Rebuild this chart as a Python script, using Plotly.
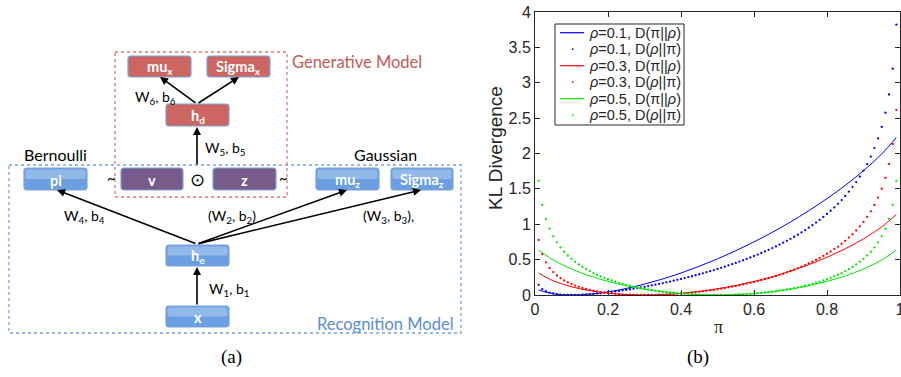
import plotly.graph_objects as go

# ---------------- data ----------------
pi_dots = [0.01,0.02,0.03,0.04,0.05,0.06,0.07,0.08,0.09,0.10,
           0.11,0.12,0.13,0.14,0.15,0.16,0.17,0.18,0.19,0.20,
           0.21,0.22,0.23,0.24,0.25,0.26,0.27,0.28,0.29,0.30,
           0.31,0.32,0.33,0.34,0.35,0.36,0.37,0.38,0.39,0.40,
           0.41,0.42,0.43,0.44,0.45,0.46,0.47,0.48,0.49,0.50,
           0.51,0.52,0.53,0.54,0.55,0.56,0.57,0.58,0.59,0.60,
           0.61,0.62,0.63,0.64,0.65,0.66,0.67,0.68,0.69,0.70,
           0.71,0.72,0.73,0.74,0.75,0.76,0.77,0.78,0.79,0.80,
           0.81,0.82,0.83,0.84,0.85,0.86,0.87,0.88,0.89,0.90,
           0.91,0.92,0.93,0.94,0.95,0.96,0.97,0.98,0.99]

pi_line = [0.01,0.05,0.10,0.15,0.20,0.25,0.30,0.35,0.40,0.45,0.50,
           0.55,0.60,0.65,0.70,0.75,0.80,0.85,0.90,0.95,0.99]

# D(pi||rho), solid lines
kl_fwd_rho01 = [0.071,0.017,0.000,0.012,0.044,0.092,0.154,0.227,0.311,0.406,0.511,
                0.626,0.751,0.886,1.033,1.191,1.363,1.550,1.758,1.994,2.225]
kl_fwd_rho03 = [0.309,0.201,0.116,0.061,0.026,0.006,0.000,0.006,0.023,0.050,0.087,
                0.135,0.192,0.260,0.339,0.430,0.534,0.654,0.794,0.963,1.139]
kl_fwd_rho05 = [0.637,0.495,0.368,0.270,0.193,0.131,0.082,0.046,0.020,0.005,0.000,
                0.005,0.020,0.046,0.082,0.131,0.193,0.270,0.368,0.495,0.637]

# D(rho||pi), dotted
kl_rev_rho01 = [0.144,0.084,0.053,0.034,0.021,0.012,0.006,0.003,0.001,0.000,
                0.001,0.002,0.004,0.007,0.011,0.015,0.020,0.025,0.031,0.037,
                0.043,0.050,0.057,0.065,0.072,0.081,0.089,0.098,0.107,0.116,
                0.126,0.136,0.146,0.157,0.168,0.179,0.190,0.202,0.214,0.226,
                0.239,0.252,0.265,0.279,0.293,0.307,0.322,0.337,0.352,0.368,
                0.384,0.401,0.418,0.435,0.453,0.472,0.491,0.510,0.530,0.551,
                0.572,0.594,0.616,0.639,0.663,0.687,0.713,0.739,0.766,0.794,
                0.823,0.853,0.885,0.917,0.951,0.987,1.024,1.062,1.103,1.146,
                1.191,1.238,1.288,1.342,1.399,1.460,1.525,1.596,1.673,1.758,
                1.851,1.956,2.076,2.213,2.376,2.576,2.834,3.198,3.821]
kl_rev_rho03 = [0.778,0.577,0.462,0.383,0.324,0.276,0.238,0.205,0.178,0.154,
                0.133,0.115,0.099,0.085,0.072,0.061,0.051,0.042,0.035,0.028,
                0.022,0.017,0.013,0.009,0.006,0.004,0.002,0.001,0.000,0.000,
                0.000,0.001,0.002,0.004,0.006,0.008,0.011,0.014,0.018,0.022,
                0.026,0.031,0.036,0.041,0.047,0.053,0.060,0.067,0.074,0.082,
                0.090,0.099,0.108,0.118,0.127,0.138,0.149,0.160,0.172,0.184,
                0.197,0.210,0.224,0.238,0.253,0.269,0.285,0.302,0.320,0.339,
                0.358,0.379,0.400,0.422,0.446,0.470,0.496,0.524,0.552,0.583,
                0.615,0.649,0.685,0.724,0.766,0.811,0.859,0.912,0.969,1.033,
                1.103,1.182,1.272,1.377,1.502,1.655,1.853,2.134,2.616]
kl_rev_rho05 = [1.614,1.273,1.075,0.937,0.830,0.744,0.673,0.611,0.558,0.511,
                0.469,0.431,0.397,0.365,0.337,0.310,0.286,0.263,0.243,0.223,
                0.205,0.188,0.172,0.158,0.144,0.131,0.119,0.108,0.097,0.087,
                0.078,0.069,0.061,0.054,0.047,0.041,0.035,0.030,0.025,0.020,
                0.016,0.013,0.010,0.007,0.005,0.003,0.002,0.001,0.000,0.000,
                0.000,0.001,0.002,0.003,0.005,0.007,0.010,0.013,0.016,0.020,
                0.025,0.030,0.035,0.041,0.047,0.054,0.061,0.069,0.078,0.087,
                0.097,0.108,0.119,0.131,0.144,0.158,0.172,0.188,0.205,0.223,
                0.243,0.263,0.286,0.310,0.337,0.365,0.397,0.431,0.469,0.511,
                0.558,0.611,0.673,0.744,0.830,0.937,1.075,1.273,1.614]

series_names = [
    "<i>ρ</i>=0.1, D(π||<i>ρ</i>)",
    "<i>ρ</i>=0.1, D(<i>ρ</i>||π)",
    "<i>ρ</i>=0.3, D(π||<i>ρ</i>)",
    "<i>ρ</i>=0.3, D(<i>ρ</i>||π)",
    "<i>ρ</i>=0.5, D(π||<i>ρ</i>)",
    "<i>ρ</i>=0.5, D(<i>ρ</i>||π)",
]
x_tickvals = [0, 0.2, 0.4, 0.6, 0.8, 1]
x_ticktext = ["0", "0.2", "0.4", "0.6", "0.8", "1"]
y_tickvals = [0, 0.5, 1, 1.5, 2, 2.5, 3, 3.5, 4]
y_ticktext = ["0", "0.5", "1", "1.5", "2", "2.5", "3", "3.5", "4"]

# ---------------- figure ----------------
W, H = 901, 377
AX = "#262626"
fig = go.Figure()

colors = ["#0000ff", "#ff0000", "#00e600"]
fwd = [kl_fwd_rho01, kl_fwd_rho03, kl_fwd_rho05]
rev = [kl_rev_rho01, kl_rev_rho03, kl_rev_rho05]
for i in range(3):
    fig.add_trace(go.Scatter(x=pi_line, y=fwd[i], mode="lines", name=series_names[2 * i],
                             line=dict(color=colors[i], width=1, shape="spline"),
                             showlegend=False, xaxis="x", yaxis="y"))
    fig.add_trace(go.Scatter(x=pi_dots, y=rev[i], mode="markers", name=series_names[2 * i + 1],
                             marker=dict(color=colors[i], size=2.3, line=dict(width=0)),
                             showlegend=False, cliponaxis=False, xaxis="x", yaxis="y"))

# empty trace so the full-figure overlay axes exist (used for diagram panel)
fig.add_trace(go.Scatter(x=[], y=[], xaxis="x2", yaxis="y2", showlegend=False, hoverinfo="skip"))

shapes = []
annots = []

# ---------------- legend box of (b) ----------------
leg_x0, leg_y0, leg_x1, leg_y1 = 555, 24, 684, 125
shapes.append(dict(type="rect", xref="x2", yref="y2", x0=leg_x0, y0=leg_y0, x1=leg_x1, y1=leg_y1,
                   line=dict(color=AX, width=1), fillcolor="white", layer="above"))
for i, name in enumerate(series_names):
    ry = 32.7 + 16.5 * i
    c = colors[i // 2]
    if i % 2 == 0:
        shapes.append(dict(type="line", xref="x2", yref="y2", x0=560, x1=584, y0=ry, y1=ry,
                           line=dict(color=c, width=1.2)))
    else:
        shapes.append(dict(type="circle", xref="x2", yref="y2", x0=571.8, x1=573.6,
                           y0=ry - 0.9, y1=ry + 0.9, fillcolor=c, line=dict(width=0)))
    annots.append(dict(x=587, y=ry, xref="x2", yref="y2", text=name, showarrow=False,
                       xanchor="left", yanchor="middle",
                       font=dict(family="Liberation Sans", size=14.5, color=AX)))

# ---------------- diagram (a) ----------------
def rrect(x0, y0, x1, y1, r=3):
    return (f"M {x0+r},{y0} L {x1-r},{y0} Q {x1},{y0} {x1},{y0+r} L {x1},{y1-r} "
            f"Q {x1},{y1} {x1-r},{y1} L {x0+r},{y1} Q {x0},{y1} {x0},{y1-r} "
            f"L {x0},{y0+r} Q {x0},{y0} {x0+r},{y0} Z")

shapes.append(dict(type="rect", xref="x2", yref="y2", x0=9, y0=165, x1=461, y1=333,
                   line=dict(color="#7aa3d6", width=1.3, dash="dot")))
shapes.append(dict(type="rect", xref="x2", yref="y2", x0=115, y0=52, x1=287, y1=197,
                   line=dict(color="#d77a78", width=1.3, dash="dot")))

boxes = [
    ("mu<sub>x</sub>", 128, 56, 191, 77, "red"),
    ("Sigma<sub>x</sub>", 207, 56, 270, 77, "red"),
    ("h<sub>d</sub>", 166, 104, 229, 126, "red"),
    ("pi", 24, 168, 87, 190, "blue"),
    ("v", 121, 168, 183, 190, "purple"),
    ("z", 213, 168, 276, 190, "purple"),
    ("mu<sub>z</sub>", 316, 168, 379, 190, "blue"),
    ("Sigma<sub>z</sub>", 391, 168, 453, 190, "blue"),
    ("h<sub>e</sub>", 166, 245, 229, 266, "blue"),
    ("x", 166, 306, 229, 327, "blue"),
]
fills = {"red": "#cd6662", "purple": "#775b8b", "blue": "#6a9fe2"}
for label, x0, y0, x1, y1, kind in boxes:
    shapes.append(dict(type="path", xref="x2", yref="y2", path=rrect(x0, y0, x1, y1),
                       fillcolor=fills[kind], line=dict(color="#7ea3d6", width=1.2)))
    if kind == "blue":
        shapes.append(dict(type="path", xref="x2", yref="y2",
                           path=rrect(x0 + 1.5, y0 + 1.5, x1 - 1.5, y0 + (y1 - y0) * 0.5, 2),
                           fillcolor="rgba(255,255,255,0.28)", line=dict(width=0)))
    annots.append(dict(x=(x0 + x1) / 2, y=(y0 + y1) / 2 + 1, xref="x2", yref="y2",
                       text=f"<b>{label}</b>", showarrow=False,
                       font=dict(family="Lato", size=14.5, color="white")))

arrows = [
    ((197, 244), (57, 190)),
    ((197, 244), (347, 190)),
    ((197, 244), (421, 190)),
    ((197, 306), (197, 267)),
    ((197, 166), (197, 127)),
    ((197, 104), (160, 77)),
    ((197, 104), (239, 77)),
]
for (tx, ty), (hx, hy) in arrows:
    annots.append(dict(x=hx, y=hy, ax=tx, ay=ty, xref="x2", yref="y2", axref="x2", ayref="y2",
                       text="", showarrow=True, arrowhead=2, arrowsize=1, arrowwidth=1.6,
                       arrowcolor="black", standoff=0, startstandoff=0))

texts = [
    ("Generative Model", 357, 62, "#c55a57", 16.5),
    ("Recognition Model", 385, 324, "#5b8fd0", 16.5),
    ("Bernoulli", 55, 154, "black", 16),
    ("Gaussian", 385, 154, "black", 16),
    ("W<sub>6</sub>, b<sub>6</sub>", 155, 97, "black", 14),
    ("W<sub>5</sub>, b<sub>5</sub>", 225, 148, "black", 14),
    ("W<sub>4</sub>, b<sub>4</sub>", 84, 216, "black", 14),
    ("(W<sub>2</sub>, b<sub>2</sub>)", 232, 216, "black", 14),
    ("(W<sub>3</sub>, b<sub>3</sub>),", 388, 216, "black", 14),
    ("W<sub>1</sub>, b<sub>1</sub>", 229, 289, "black", 14),
    ("~", 111, 178, "black", 15),
    ("~", 283, 178, "black", 15),
    ("⊙", 197, 179, "black", 18),
]
for t, x, y, c, s in texts:
    annots.append(dict(x=x, y=y, xref="x2", yref="y2", text=t, showarrow=False,
                       font=dict(family="Lato", size=s, color=c)))

annots.append(dict(x=231, y=357, xref="x2", yref="y2", text="(a)", showarrow=False,
                   font=dict(family="Liberation Serif", size=19, color="black")))
annots.append(dict(x=698, y=357, xref="x2", yref="y2", text="(b)", showarrow=False,
                   font=dict(family="Liberation Serif", size=19, color="black")))
annots.append(dict(x=495, y=148, xref="x2", yref="y2", text="KL Divergence", showarrow=False,
                   textangle=-90, font=dict(family="Liberation Sans", size=19, color=AX)))
annots.append(dict(x=718, y=327, xref="x2", yref="y2", text="π", showarrow=False,
                   font=dict(family="Liberation Serif", size=18, color=AX)))

axis_common = dict(showline=True, linecolor=AX, linewidth=1, mirror="ticks", ticks="inside",
                   ticklen=5, tickcolor=AX, tickwidth=1, showgrid=False, zeroline=False,
                   automargin=False, ticklabeloverflow="allow",
                   tickfont=dict(family="Liberation Sans", size=16, color=AX))

fig.update_layout(
    template="none",
    width=W, height=H, autosize=False,
    margin=dict(l=0, r=0, t=0, b=0, pad=0),
    paper_bgcolor="white", plot_bgcolor="rgba(0,0,0,0)",
    xaxis=dict(domain=[535 / W, 900 / W], range=[0, 1], tickvals=x_tickvals, ticktext=x_ticktext,
               anchor="y", **axis_common),
    yaxis=dict(domain=[1 - 295 / H, 1 - 12 / H], range=[0, 4], tickvals=y_tickvals,
               ticktext=y_ticktext, anchor="x", **axis_common),
    xaxis2=dict(domain=[0, 1], range=[0, W], visible=False, anchor="y2", fixedrange=True,
                automargin=False),
    yaxis2=dict(domain=[0, 1], range=[H, 0], visible=False, anchor="x2", fixedrange=True,
                automargin=False),
    showlegend=False,
    shapes=shapes,
    annotations=annots,
)

fig.write_html("out.html", config={"displayModeBar": False},
               post_script="document.body.style.margin='0';document.body.style.padding='0';")
